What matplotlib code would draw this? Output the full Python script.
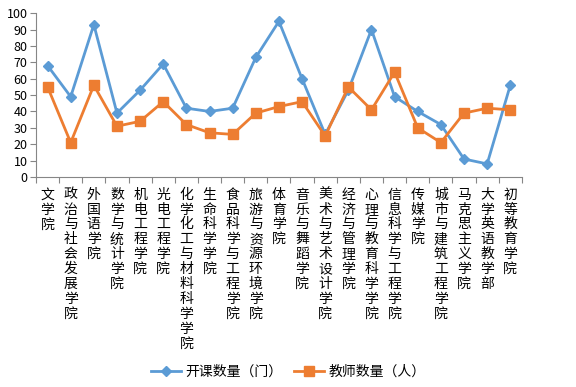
import matplotlib
matplotlib.use('Agg')
import matplotlib.pyplot as plt
import numpy as np

plt.rcParams['font.family'] = ['Noto Sans CJK SC', 'DejaVu Sans']

colleges = ['文学院', '政治与社会发展学院', '外国语学院', '数学与统计学院', '机电工程学院',
            '光电工程学院', '化学化工与材料科学学院', '生命科学学院', '食品科学与工程学院',
            '旅游与资源环境学院', '体育学院', '音乐与舞蹈学院', '美术与艺术设计学院',
            '经济与管理学院', '心理与教育科学学院', '信息科学与工程学院', '传媒学院',
            '城市与建筑工程学院', '马克思主义学院', '大学英语教学部', '初等教育学院']
courses = [68, 49, 93, 39, 53, 69, 42, 40, 42, 73, 95, 60, 26, 53, 90, 49, 40, 32, 11, 8, 56]
teachers = [55, 21, 56, 31, 34, 46, 32, 27, 26, 39, 43, 46, 25, 55, 41, 64, 30, 21, 39, 42, 41]

fig = plt.figure(figsize=(5.76, 3.87), dpi=100)
ax = fig.add_axes([0.0625, 0.5426, 0.8435, 0.4234])

x = np.arange(len(colleges))
ax.plot(x, courses, color='#5B9BD5', lw=2, marker='D', ms=5,
        label='开课数量（门）')
ax.plot(x, teachers, color='#ED7D31', lw=2, marker='s', ms=7,
        label='教师数量（人）')

ax.set_xlim(-0.5, len(colleges) - 0.5)
ax.set_ylim(0, 100)
ax.set_yticks(range(0, 101, 10))
ax.tick_params(axis='y', labelsize=9, length=4, color='#868686', pad=2)

# category boundary ticks, labels stacked vertically
ax.set_xticks(np.arange(-0.5, len(colleges)), minor=False)
ax.set_xticklabels([])
ax.tick_params(axis='x', length=4, color='#868686')
for i, name in enumerate(colleges):
    ax.text(i, -6.5, '\n'.join(name), ha='center', va='top', fontsize=10,
            linespacing=1.08)

for s in ['top', 'right']:
    ax.spines[s].set_visible(False)
for s in ['left', 'bottom']:
    ax.spines[s].set_color('#868686')

fig.legend(loc='lower center', ncol=2, frameon=False, fontsize=10,
           bbox_to_anchor=(0.5, -0.01), handlelength=2.2, handletextpad=0.3,
           columnspacing=0.8)

fig.savefig('out.png', dpi=100)
